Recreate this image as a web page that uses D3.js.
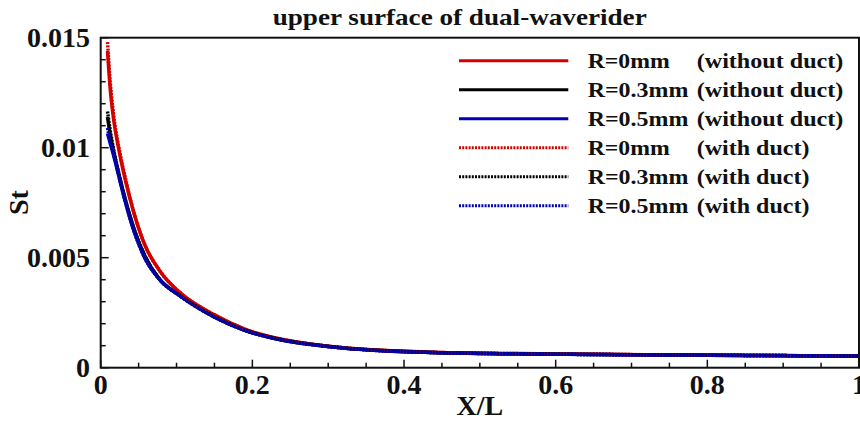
<!DOCTYPE html>
<html>
<head>
<meta charset="utf-8">
<script src="https://cdn.jsdelivr.net/npm/d3@7"></script>
<style>
html,body{margin:0;padding:0;background:#fff;}
svg{display:block;}
text{font-family:"Liberation Serif","Times New Roman",serif;font-weight:bold;fill:#111;}
</style>
</head>
<body>
<svg id="chart" width="860" height="421"></svg>
<script>
// ---- data ----
const xGrid = [0.009, 0.0125, 0.0166, 0.024, 0.032, 0.045, 0.058, 0.078, 0.105, 0.15, 0.19, 0.24, 0.28, 0.32, 0.37, 0.45, 0.55, 0.65, 0.75, 0.85, 1.0];

const stR0 =   [0.0144, 0.0127, 0.0114, 0.0099, 0.0086, 0.0069, 0.0056, 0.0044, 0.0034, 0.0024, 0.00175, 0.00128, 0.00106, 0.00091, 0.00079, 0.00069, 0.00064, 0.00061, 0.00058, 0.00056, 0.00053];
const stR03 =  [0.0114, 0.0106, 0.0099, 0.0088, 0.0077, 0.0062, 0.0051, 0.0040, 0.00327, 0.00232, 0.00171, 0.00126, 0.00105, 0.0009, 0.00078, 0.00068, 0.00063, 0.0006, 0.00058, 0.00056, 0.00053];
const stR05 =  [0.01065, 0.0102, 0.0097, 0.0087, 0.0076, 0.0061, 0.0050, 0.0040, 0.00325, 0.0023, 0.0017, 0.00125, 0.00104, 0.00089, 0.00077, 0.00068, 0.00063, 0.0006, 0.00058, 0.00056, 0.00053];
const stR0d =  [0.0148, 0.0130, 0.0116, 0.0100, 0.0087, 0.0069, 0.0056, 0.0044, 0.0034, 0.0024, 0.00175, 0.00128, 0.00106, 0.00091, 0.00079, 0.00069, 0.00064, 0.00061, 0.00058, 0.00056, 0.00053];
const stR03d = [0.01165, 0.0108, 0.0100, 0.0088, 0.0077, 0.0062, 0.0051, 0.0040, 0.00327, 0.00232, 0.00171, 0.00126, 0.00105, 0.0009, 0.00078, 0.00068, 0.00063, 0.0006, 0.00058, 0.00056, 0.00053];
const stR05d = [0.0109, 0.0103, 0.0098, 0.0087, 0.0076, 0.0061, 0.0050, 0.0040, 0.00325, 0.0023, 0.0017, 0.00125, 0.00104, 0.00089, 0.00077, 0.00068, 0.00063, 0.0006, 0.00058, 0.00056, 0.00053];

const seriesNames = ["R=0mm", "R=0.3mm", "R=0.5mm", "R=0mm", "R=0.3mm", "R=0.5mm"];
const seriesNotes = ["(without duct)", "(without duct)", "(without duct)", "(with duct)", "(with duct)", "(with duct)"];
const seriesValues = [stR0, stR03, stR05, stR0d, stR03d, stR05d];
const seriesColors = ["#d40000", "#000000", "#0000b4", "#d40000", "#000000", "#0000b4"];
const seriesDashed = [false, false, false, true, true, true];

const xTicks = [0, 0.2, 0.4, 0.6, 0.8, 1];
const xTickLabels = ["0", "0.2", "0.4", "0.6", "0.8", "1"];
const yTicks = [0, 0.005, 0.01, 0.015];
const yTickLabels = ["0", "0.005", "0.01", "0.015"];

const titleText = "upper surface of dual-waverider";
const xTitle = "X/L";
const yTitle = "St";

(function () {
const svg = d3.select("#chart");
const pL = 100.7, pR = 859, pT = 37.7, pB = 367.7;
const x = d3.scaleLinear().domain([0, 1]).range([pL, pR]);
const y = d3.scaleLinear().domain([0, 0.015]).range([pB, pT]);

// title
svg.append("text").attr("x", 272.7).attr("y", 25)
  .attr("font-size", 24).attr("textLength", 374).attr("lengthAdjust", "spacingAndGlyphs")
  .text(titleText);

// curves
svg.append("clipPath").attr("id", "plotclip").append("rect")
  .attr("x", pL).attr("y", pT - 2).attr("width", pR - pL).attr("height", pB - pT + 2);
const line = d3.line().x(d => x(d[0])).y(d => y(d[1])).curve(d3.curveMonotoneX);
const plot = svg.append("g").attr("clip-path", "url(#plotclip)");
seriesValues.forEach((vals, i) => {
  const pts = xGrid.map((xv, j) => [xv, vals[j]]);
  plot.append("path").datum(pts).attr("d", line)
    .attr("fill", "none").attr("stroke", seriesColors[i])
    .attr("stroke-width", 3.5)
    .attr("stroke-dasharray", seriesDashed[i] ? "2,1.2" : null);
});

// inward ticks
const xMinor = d3.range(0, 1.0001, 0.05);
const yMinor = d3.range(0, 0.01501, 0.001);
const axG = svg.append("g").attr("stroke", "#111");
xMinor.forEach(v => {
  const major = xTicks.some(t => Math.abs(t - v) < 1e-6);
  axG.append("line").attr("x1", x(v)).attr("x2", x(v))
    .attr("y1", pB).attr("y2", pB - (major ? 8 : 5)).attr("stroke-width", 1.5);
});
yMinor.forEach(v => {
  const major = yTicks.some(t => Math.abs(t - v) < 1e-9);
  axG.append("line").attr("y1", y(v)).attr("y2", y(v))
    .attr("x1", pL).attr("x2", pL + (major ? 8 : 5)).attr("stroke-width", 1.5);
});
// frame
svg.append("rect").attr("x", pL).attr("y", pT).attr("width", pR - pL).attr("height", pB - pT)
  .attr("fill", "none").attr("stroke", "#111").attr("stroke-width", 2);

// tick labels
xTicks.forEach((t, i) => {
  svg.append("text").attr("x", x(t)).attr("y", 393.5).attr("text-anchor", "middle")
    .attr("font-size", 28).text(xTickLabels[i]);
});
yTicks.forEach((t, i) => {
  svg.append("text").attr("x", 90).attr("y", y(t) + 9.5).attr("text-anchor", "end")
    .attr("font-size", 28).text(yTickLabels[i]);
});

// axis titles
svg.append("text").attr("x", x(0.5)).attr("y", 415).attr("text-anchor", "middle")
  .attr("font-size", 28).text(xTitle);
svg.append("text").attr("transform", "translate(28,202.5) rotate(-90)").attr("text-anchor", "middle")
  .attr("font-size", 28).text(yTitle);

// legend
const legY0 = 60.7, legDy = 29;
const nameWidths = {"R=0mm": 82, "R=0.3mm": 100.7, "R=0.5mm": 100.7};
const noteWidths = {"(without duct)": 146.7, "(with duct)": 112.7};
seriesNames.forEach((name, i) => {
  const yy = legY0 + i * legDy;
  svg.append("line").attr("x1", 459).attr("x2", 568.3).attr("y1", yy).attr("y2", yy)
    .attr("stroke", seriesColors[i]).attr("stroke-width", 3)
    .attr("stroke-dasharray", seriesDashed[i] ? "2,1.2" : null);
  svg.append("text").attr("x", 587.7).attr("y", yy + 6.8).attr("font-size", 21)
    .attr("textLength", nameWidths[name]).attr("lengthAdjust", "spacingAndGlyphs").text(name);
  svg.append("text").attr("x", 696.7).attr("y", yy + 6.8).attr("font-size", 21)
    .attr("textLength", noteWidths[seriesNotes[i]]).attr("lengthAdjust", "spacingAndGlyphs").text(seriesNotes[i]);
});
})();
</script>
</body>
</html>
